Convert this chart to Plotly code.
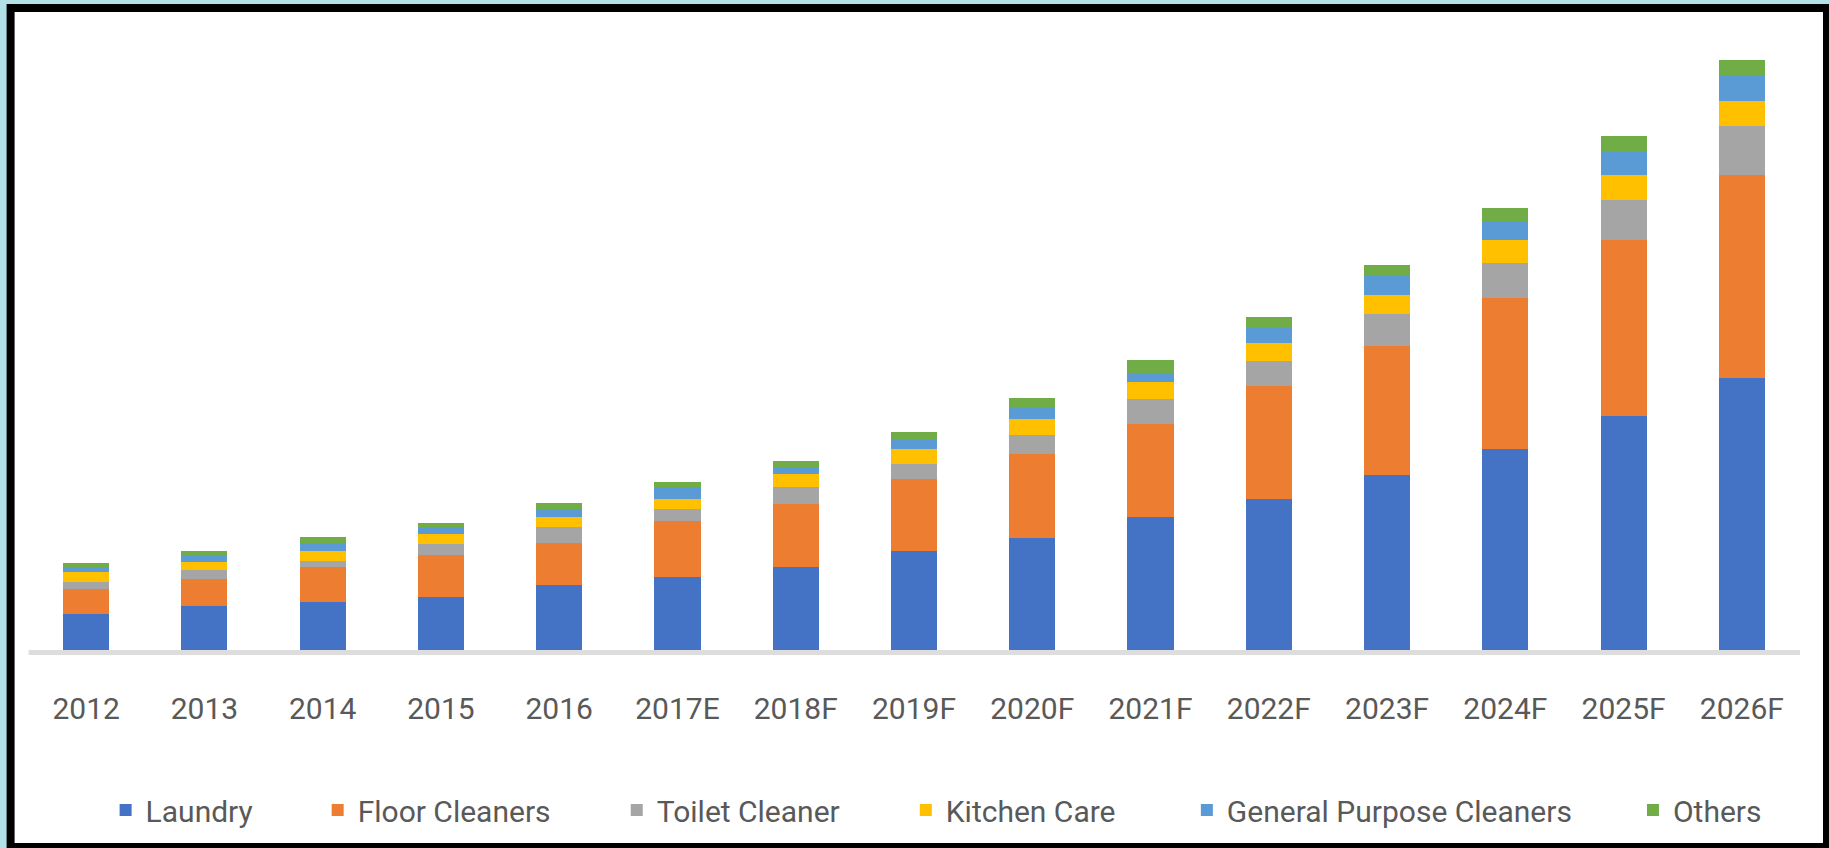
import plotly.graph_objects as go

years = ["2012", "2013", "2014", "2015", "2016", "2017E", "2018F", "2019F",
         "2020F", "2021F", "2022F", "2023F", "2024F", "2025F", "2026F"]

laundry = [35.7, 44.3, 48.0, 52.7, 65.3, 73.3, 82.7, 99.0, 111.7, 133.0, 151.3, 175.0, 200.7, 234.4, 272.5]
floor_cleaners = [25.3, 26.7, 35.3, 42.3, 42.0, 55.4, 63.0, 72.0, 84.6, 93.0, 112.7, 129.0, 151.3, 176.1, 202.6]
toilet_cleaner = [7.0, 9.0, 5.7, 11.0, 16.0, 12.0, 17.0, 15.0, 18.7, 25.0, 25.0, 32.0, 34.7, 39.7, 49.0]
kitchen_care = [10.3, 8.3, 10.0, 10.0, 10.0, 10.0, 13.3, 15.3, 15.7, 17.0, 17.7, 19.0, 23.3, 24.9, 25.3]
general_purpose = [5.0, 6.7, 7.7, 5.7, 7.7, 12.0, 6.7, 9.7, 12.6, 8.7, 15.0, 20.0, 19.0, 22.5, 25.6]
others = [4.0, 4.3, 6.0, 5.6, 5.7, 5.0, 6.0, 6.7, 8.4, 13.0, 11.0, 10.0, 12.7, 16.0, 14.9]

series_names = ["Laundry", "Floor Cleaners", "Toilet Cleaner", "Kitchen Care",
                "General Purpose Cleaners", "Others"]
series_values = [laundry, floor_cleaners, toilet_cleaner, kitchen_care, general_purpose, others]
series_colors = ["#4472C4", "#ED7D31", "#A5A5A5", "#FFC000", "#5B9BD5", "#70AD47"]

W, H = 1829, 848
PL, PR = 27.4, 1801.0      # plot area left/right in px
PT, PB = 40.0, 650.0       # plot area top/bottom in px
PW, PH = PR - PL, PB - PT


def px_x(x):
    return (x - PL) / PW


def px_y(y):
    return (PB - y) / PH


FONT = "Roboto, Liberation Sans, sans-serif"
TXT = "#595959"
FS = 30

fig = go.Figure()
legend_names = ["legend", "legend2", "legend3", "legend4", "legend5", "legend6"]
for name, vals, col, lg in zip(series_names, series_values, series_colors, legend_names):
    fig.add_trace(go.Bar(x=years, y=vals, name=name, marker=dict(color=col, line=dict(width=0)),
                         legend=lg, showlegend=True))

square_left = [120, 332, 631, 920, 1201, 1647]
legend_cfg = {}
for lg, sl in zip(legend_names, square_left):
    legend_cfg[lg] = dict(
        x=px_x(sl - 14), xanchor="left", y=px_y(810), yanchor="middle",
        orientation="h", font=dict(family=FONT, size=FS, color=TXT),
        bgcolor="rgba(0,0,0,0)", borderwidth=0,
    )

shapes = [
    # black frame
    dict(type="rect", xref="paper", yref="paper", x0=px_x(7), x1=px_x(1850), y0=px_y(4), y1=px_y(870),
         fillcolor="#000000", line=dict(width=0), layer="below"),
    dict(type="rect", xref="paper", yref="paper", x0=px_x(15), x1=px_x(1823), y0=px_y(12), y1=px_y(843),
         fillcolor="#FFFFFF", line=dict(width=0), layer="below"),
    # category axis line
    dict(type="rect", xref="paper", yref="paper", x0=px_x(29), x1=px_x(1800), y0=px_y(650), y1=px_y(655),
         fillcolor="#d4d4d4", opacity=0.8, line=dict(width=0), layer="above"),
]

fig.update_layout(
    width=W, height=H,
    showlegend=True,
    barmode="stack", bargap=0.61,
    paper_bgcolor="#b3e1e8", plot_bgcolor="rgba(0,0,0,0)",
    margin=dict(l=PL, r=W - PR, t=PT, b=H - PB, pad=0, autoexpand=False),
    xaxis=dict(type="category", showgrid=False, showline=False, zeroline=False,
               tickfont=dict(family=FONT, size=FS, color=TXT), ticks="", ticklabelstandoff=38,
               range=[-0.5, 14.5]),
    yaxis=dict(visible=False, range=[0, PH], showgrid=False, zeroline=False),
    shapes=shapes,
    **legend_cfg,
)

fig.write_html("out.html", config={"displayModeBar": False},
               post_script="document.body.style.margin='0';document.body.style.overflow='hidden';")
